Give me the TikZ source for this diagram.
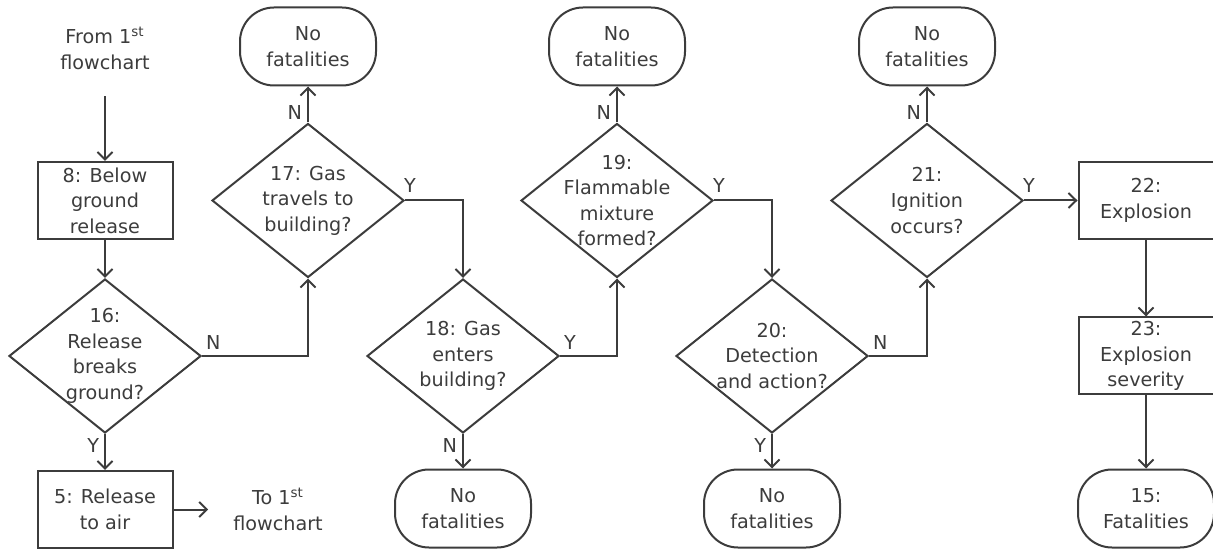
\documentclass[tikz,border=0pt]{standalone}
\usepackage{fontspec}
\setmainfont{DejaVu Sans}
\usetikzlibrary{shapes.geometric,arrows.meta,positioning}
\definecolor{ink}{HTML}{3C3C3C}

\begin{document}
\begin{tikzpicture}[x=.5pt,y=-.5pt,
 every node/.style={text=ink,font=\fontsize{9.6}{12.8}\selectfont,align=center},
 proc/.style={draw=ink,line width=1pt,minimum width=67.5pt,minimum height=38.5pt,inner sep=0pt},
 term/.style={proc,rounded corners=17pt,minimum width=68pt,minimum height=39pt},
 dec/.style={draw=ink,line width=1pt,diamond,minimum width=96pt,minimum height=77pt,inner sep=-6pt},
 flow/.style={draw=ink,line width=1pt,-{Straight Barb[length=3.8pt,width=7.5pt]}},
 yn/.style={inner sep=0pt}]
 \useasboundingbox (0,0) rectangle (1213,549);
 \node (from) at (105,48) {From 1\textsuperscript{st}\\flowchart};
 \node (to) at (278,509.5) {To 1\textsuperscript{st}\\flowchart};
 \foreach \x/\y/\id/\txt in
  {105/200.5/b8/{8: Below\\ground\\release},105/509.5/b5/{5: Release\\to air},
   1146/200.5/b22/{22:\\Explosion},1146/356/b23/{23:\\Explosion\\severity}}
  \node[proc] (\id) at (\x,\y) {\txt};
 \foreach \x/\y/\id/\txt in
  {105/356/d16/{16:\\Release\\breaks\\ground?},308/200.5/d17/{17: Gas\\travels to\\building?},
   463/356/d18/{18: Gas\\enters\\building?},617/200.5/d19/{19:\\Flammable\\mixture\\formed?},
   772/356/d20/{20:\\Detection\\and action?},927/200.5/d21/{21:\\Ignition\\occurs?}}
  \node[dec] (\id) at (\x,\y) {\txt};
 \foreach \x/\y/\id/\txt in
  {308/46.5/n17/{No\\fatalities},617/46.5/n19/{No\\fatalities},927/46.5/n21/{No\\fatalities},
   463/508.5/n18/{No\\fatalities},772/508.5/n20/{No\\fatalities},1146/508.5/f15/{15:\\Fatalities}}
  \node[term] (\id) at (\x,\y) {\txt};
 \draw[flow,shorten <=10pt] (from.south) -- (b8.north);
 \draw[flow] (b8.south) -- (d16.north);
 \draw[flow] (d16.south) node[yn,below left=2pt and 2.5pt]{Y} -- (b5.north);
 \draw[flow,shorten >=9pt] (b5.east) -- (to.west);
 \draw[flow] (d16.east) node[yn,above right=2.5pt and 1.5pt]{N} -| (d17.south);
 \draw[flow] (d17.north) node[yn,above left=1pt and 2.5pt]{N} -- (n17.south);
 \draw[flow] (d17.east) node[yn,above right=3.5pt and -1pt]{Y} -| (d18.north);
 \draw[flow] (d18.south) node[yn,below left=2pt and 2.5pt]{N} -- (n18.north);
 \draw[flow] (d18.east) node[yn,above right=2.5pt and 1.5pt]{Y} -| (d19.south);
 \draw[flow] (d19.north) node[yn,above left=1pt and 2.5pt]{N} -- (n19.south);
 \draw[flow] (d19.east) node[yn,above right=3.5pt and -1pt]{Y} -| (d20.north);
 \draw[flow] (d20.south) node[yn,below left=2pt and 2.5pt]{Y} -- (n20.north);
 \draw[flow] (d20.east) node[yn,above right=2.5pt and 1.5pt]{N} -| (d21.south);
 \draw[flow] (d21.north) node[yn,above left=1pt and 2.5pt]{N} -- (n21.south);
 \draw[flow] (d21.east) node[yn,above right=3.5pt and -1pt]{Y} -- (b22.west);
 \draw[flow] (b22.south) -- (b23.north);
 \draw[flow] (b23.south) -- (f15.north);
\end{tikzpicture}
\end{document}
